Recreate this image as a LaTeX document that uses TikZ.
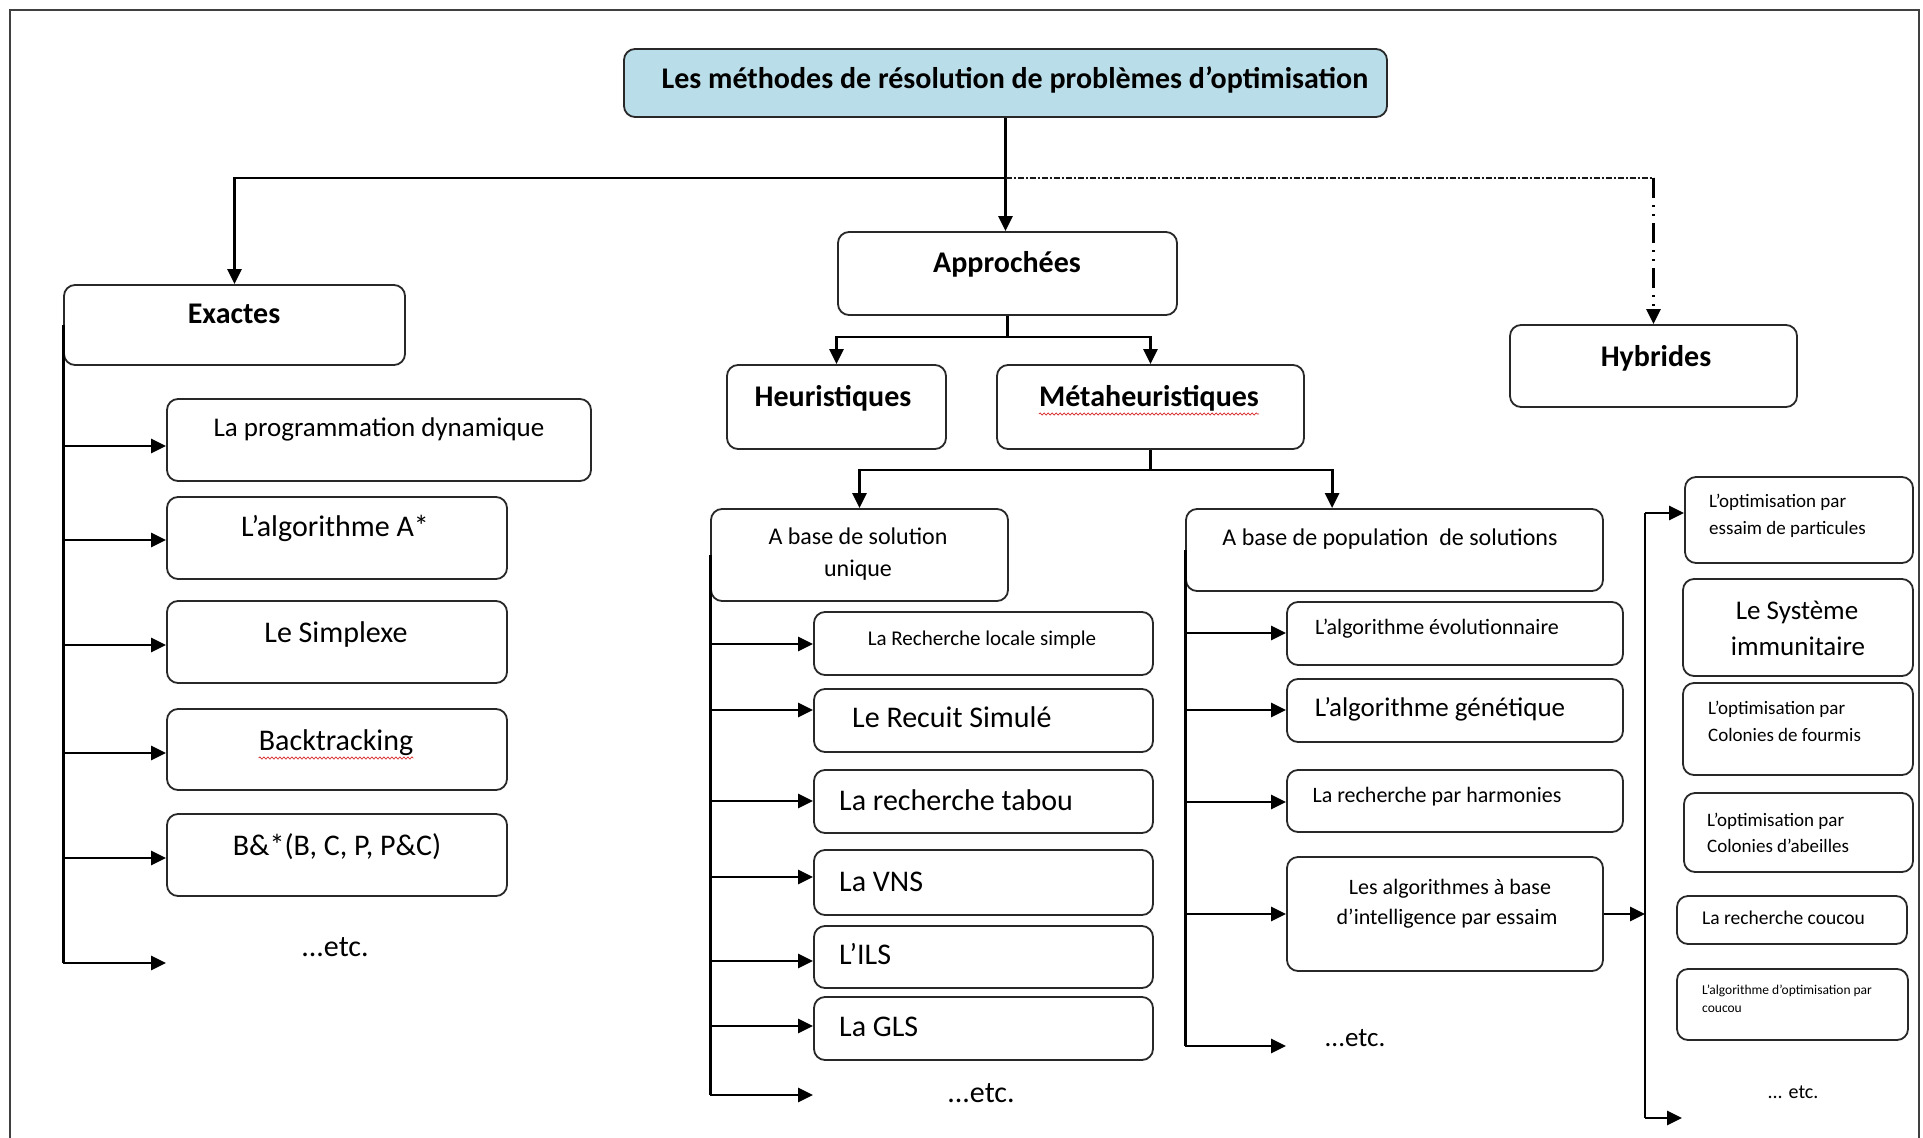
\documentclass[tikz,border=0pt]{standalone}
\usepackage{fontspec}
\setmainfont{Carlito}
\usetikzlibrary{arrows.meta,fit,decorations.pathmorphing}
\newcommand\fsz[1]{\fontsize{#1}{#1}\selectfont}
\definecolor{titlefill}{RGB}{186,222,233}
\definecolor{edge}{RGB}{40,40,40}
\definecolor{spell}{RGB}{215,40,40}
\begin{document}
\begin{tikzpicture}[x=1pt,y=-1pt,
  box/.style={draw=edge,line width=1.8pt,rounded corners=11pt,inner sep=0pt},
  wire/.style={line width=2.8pt,line join=miter},
  arr/.style={wire,-{Triangle[length=15pt,width=14pt]}},
  hdash/.style={line width=2.4pt,black!90,dash pattern=on 6pt off 2pt on 2pt off 2pt},
  vdash/.style={line width=2.8pt,dash pattern=on 20pt off 7pt on 2pt off 7pt on 2pt off 7pt,-{Triangle[length=15pt,width=14pt]}},
  lab/.style={anchor=base,inner sep=0pt},
  labw/.style={anchor=base west,inner sep=0pt},
  cat/.style={lab,font=\fsz{30}\bfseries},
  wavy/.style={spell,line width=0.7pt,decorate,decoration={snake,amplitude=1.1pt,segment length=4pt}}
]
\useasboundingbox (0,0) rectangle (1923,1138);
\fill[white] (0,0) rectangle (1923,1138);
% page frame
\draw[line width=2pt,black!75] (10,1138) -- (10,10) -- (1919,10) -- (1919,1138);

% ---------- boxes ----------
\node[box,fill=titlefill,fit={(624,49) (1387,117)}] (title) {};
\node[box,fit={(838,232) (1177,315)}] (appr) {};
\node[box,fit={(64,285) (405,365)}] (exa) {};
\node[box,fit={(1510,325) (1797,407)}] (hyb) {};
\node[box,fit={(727,365) (946,449)}] (heur) {};
\node[box,fit={(997,365) (1304,449)}] (meta) {};
\node[box,fit={(711,509) (1008,601)}] (su) {};
\node[box,fit={(1186,509) (1603,591)}] (pop) {};
% exact methods
\node[box,fit={(167,399) (591,481)}] (prog) {};
\node[box,fit={(167,497) (507,579)}] (astar) {};
\node[box,fit={(167,601) (507,683)}] (simp) {};
\node[box,fit={(167,709) (507,790)}] (back) {};
\node[box,fit={(167,814) (507,896)}] (bstar) {};
% single-solution metaheuristics
\node[box,fit={(814,612) (1153,675)}] (rls) {};
\node[box,fit={(814,689) (1153,752)}] (recuit) {};
\node[box,fit={(814,770) (1153,833)}] (tabou) {};
\node[box,fit={(814,850) (1153,915)}] (vns) {};
\node[box,fit={(814,926) (1153,988)}] (ils) {};
\node[box,fit={(814,997) (1153,1060)}] (gls) {};
% population-based metaheuristics
\node[box,fit={(1287,602) (1623,665)}] (evol) {};
\node[box,fit={(1287,679) (1623,742)}] (gen) {};
\node[box,fit={(1287,770) (1623,832)}] (harm) {};
\node[box,fit={(1287,857) (1603,971)}] (swarm) {};
% swarm intelligence
\node[box,fit={(1685,477) (1913,563)}] (pso) {};
\node[box,fit={(1683,579) (1913,676)}] (immu) {};
\node[box,fit={(1683,683) (1913,775)}] (aco) {};
\node[box,fit={(1684,793) (1913,872)}] (abc) {};
\node[box,fit={(1677,896) (1907,944)}] (cs) {};
\node[box,fit={(1677,969) (1908,1040)}] (csa) {};

% ---------- labels ----------
\node[cat] (t-title) at (1015,88) {Les méthodes de résolution de problèmes d’optimisation};
\node[cat] (t-appr) at (1007,272) {Approchées};
\node[cat] (t-exa) at (234,323) {Exactes};
\node[cat] (t-hyb) at (1656,366) {Hybrides};
\node[cat] (t-heur) at (833,406) {Heuristiques};
\node[cat] (t-meta) at (1149,406) {Métaheuristiques};
\draw[wavy] ([yshift=-8pt]t-meta.base west) -- ([yshift=-8pt]t-meta.base east);

\node[lab,font=\fsz{27}] (t-prog) at (379,436) {La programmation dynamique};
\node[lab,font=\fsz{30}] (t-astar) at (335,536) {L’algorithme A*};
\node[lab,font=\fsz{30}] (t-simp) at (336,642) {Le Simplexe};
\node[lab,font=\fsz{30}] (t-back) at (336,750) {Backtracking};
\draw[wavy] ([yshift=-8pt]t-back.base west) -- ([yshift=-8pt]t-back.base east);
\node[lab,font=\fsz{30}] (t-bstar) at (337,855) {B\&*(B, C, P, P\&C)};
\node[lab,font=\fsz{30}] (t-exetc) at (335,956) {...etc.};

\node[lab,font=\fsz{24}] (t-su1) at (858,544) {A base de solution};
\node[lab,font=\fsz{24}] (t-su2) at (858,576) {unique};
\node[lab,font=\fsz{21}] (t-rls) at (982,645) {La Recherche locale simple};
\node[labw,font=\fsz{30}] (t-recuit) at (852,727) {Le Recuit Simulé};
\node[labw,font=\fsz{30}] (t-tabou) at (839,810) {La recherche tabou};
\node[labw,font=\fsz{30}] (t-vns) at (839,891) {La VNS};
\node[labw,font=\fsz{30}] (t-ils) at (839,964) {L’ILS};
\node[labw,font=\fsz{30}] (t-gls) at (839,1036) {La GLS};
\node[lab,font=\fsz{30}] (t-suetc) at (981,1102) {...etc.};

\node[lab,font=\fsz{24}] (t-pop) at (1390,545) {A base de population~ de solutions};
\node[lab,font=\fsz{22}] (t-evol) at (1437,634) {L’algorithme évolutionnaire};
\node[lab,font=\fsz{27}] (t-gen) at (1440,716) {L’algorithme génétique};
\node[lab,font=\fsz{22}] (t-harm) at (1437,802) {La recherche par harmonies};
\node[lab,font=\fsz{22}] (t-sw1) at (1450,894) {Les algorithmes à base};
\node[lab,font=\fsz{22}] (t-sw2) at (1447,924) {d’intelligence par essaim};
\node[lab,font=\fsz{27}] (t-popetc) at (1355,1046) {...etc.};

\node[labw,font=\fsz{19}] (t-pso1) at (1709,507) {L’optimisation par};
\node[labw,font=\fsz{19}] (t-pso2) at (1709,534) {essaim de particules};
\node[lab,font=\fsz{27}] (t-immu1) at (1797,619) {Le Système};
\node[lab,font=\fsz{27}] (t-immu2) at (1798,655) {immunitaire};
\node[labw,font=\fsz{19}] (t-aco1) at (1708,714) {L’optimisation par};
\node[labw,font=\fsz{19}] (t-aco2) at (1708,741) {Colonies de fourmis};
\node[labw,font=\fsz{19}] (t-abc1) at (1707,826) {L’optimisation par};
\node[labw,font=\fsz{19}] (t-abc2) at (1707,852) {Colonies d’abeilles};
\node[labw,font=\fsz{19.5}] (t-cs) at (1702,924) {La recherche coucou};
\node[labw,font=\fsz{13.5}] (t-csa1) at (1702,994) {L’algorithme d’optimisation par};
\node[labw,font=\fsz{13.5}] (t-csa2) at (1702,1012) {coucou};
\node[lab,font=\fsz{20}] (t-rtetc) at (1793,1098) {... etc.};

% ---------- connectors ----------
\coordinate (b1) at (title.south |- 0,178);
\draw[arr] (title.south) -- (title.south |- appr.north);
\draw[arr] (b1) -| (exa.north);
\draw[hdash] (b1) -- (b1 -| hyb.north);
\draw[vdash] (b1 -| hyb.north) -- (hyb.north);

\coordinate (b2) at (appr.south |- 0,337);
\draw[wire] (appr.south) -- (b2);
\draw[arr] (b2) -| (heur.north);
\draw[arr] (b2) -| (meta.north);

\coordinate (b3) at (meta.south |- 0,470);
\draw[wire] (meta.south) -- (b3);
\draw[arr] (b3) -| (su.north);
\draw[arr] (b3) -| ([xshift=147pt]pop.north west);

% exact methods bus
\draw[wire] (exa.west) -- (exa.west |- 0,963);
\draw[arr] (exa.west |- 0,446) -- (prog.west |- 0,446);
\draw[arr] (exa.west |- 0,540) -- (astar.west |- 0,540);
\draw[arr] (exa.west |- 0,645) -- (simp.west |- 0,645);
\draw[arr] (exa.west |- 0,753) -- (back.west |- 0,753);
\draw[arr] (exa.west |- 0,858) -- (bstar.west |- 0,858);
\draw[arr] (exa.west |- 0,963) -- (prog.west |- 0,963);

% single-solution bus
\draw[wire] (su.west) -- (su.west |- 0,1095);
\draw[arr] (su.west |- 0,644) -- (rls.west |- 0,644);
\draw[arr] (su.west |- 0,710) -- (recuit.west |- 0,710);
\draw[arr] (su.west |- 0,801) -- (tabou.west |- 0,801);
\draw[arr] (su.west |- 0,877) -- (vns.west |- 0,877);
\draw[arr] (su.west |- 0,961) -- (ils.west |- 0,961);
\draw[arr] (su.west |- 0,1026) -- (gls.west |- 0,1026);
\draw[arr] (su.west |- 0,1095) -- (gls.west |- 0,1095);

% population bus
\draw[wire] (pop.west) -- (pop.west |- 0,1046);
\draw[arr] (pop.west |- 0,633) -- (evol.west |- 0,633);
\draw[arr] (pop.west |- 0,710) -- (gen.west |- 0,710);
\draw[arr] (pop.west |- 0,802) -- (harm.west |- 0,802);
\draw[arr] (pop.west |- 0,914) -- (swarm.west |- 0,914);
\draw[arr] (pop.west |- 0,1046) -- (swarm.west |- 0,1046);

% swarm intelligence bus
\coordinate (rtop) at (1645,513);
\coordinate (rbot) at (1645,1118);
\coordinate (rend) at (1682,1118);
\draw[wire] (rtop) -- (rbot);
\draw[arr] (rtop) -- (rtop -| pso.west);
\draw[arr] (swarm.east |- 0,914) -- (rtop |- 0,914);
\draw[arr] (rbot) -- (rend);
\end{tikzpicture}
\end{document}
